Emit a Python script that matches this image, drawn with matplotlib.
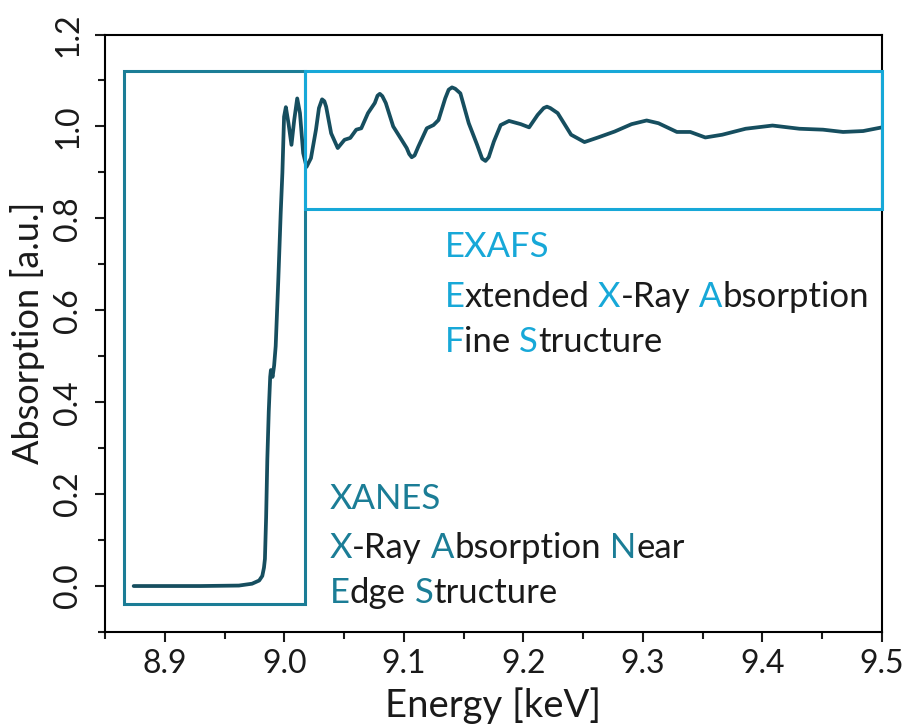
import matplotlib
matplotlib.use("Agg")
import matplotlib.pyplot as plt
from matplotlib.patches import Rectangle
from matplotlib.ticker import MultipleLocator
from matplotlib.transforms import offset_copy
from matplotlib.font_manager import FontProperties

# ---- data: X-ray absorption spectrum (energy in keV, normalised absorption) ----
energy = [
    8.874, 8.900, 8.930, 8.962, 8.973, 8.979, 8.9816, 8.983, 8.9838, 8.9848,
    8.9858, 8.987, 8.9882, 8.9888, 8.9895, 8.9902, 8.9915, 8.9928, 8.995, 8.997,
    8.9984, 8.9998, 9.0013, 9.0035, 9.006, 9.0083, 9.0108, 9.0131, 9.0158, 9.0186,
    9.0223, 9.0265, 9.029, 9.0316, 9.0335, 9.035, 9.0392, 9.0447, 9.0504, 9.0552,
    9.0602, 9.0644, 9.070, 9.0757, 9.078, 9.0799, 9.082, 9.0849, 9.0911, 9.0981,
    9.1024, 9.1045, 9.1066, 9.109, 9.1121, 9.1192, 9.1248, 9.1290, 9.1346, 9.1375,
    9.1403, 9.143, 9.1473, 9.1543, 9.1613, 9.1655, 9.1683, 9.171, 9.1753, 9.181,
    9.188, 9.1978, 9.2048, 9.2119, 9.217, 9.2197, 9.2225, 9.2287, 9.2399, 9.2511,
    9.2624, 9.2764, 9.2905, 9.3031, 9.3130, 9.3284, 9.3396, 9.3522, 9.3663, 9.3859,
    9.4084, 9.4309, 9.4506, 9.4674, 9.4842, 9.500,
]
absorption = [
    0.000, 0.000, 0.000, 0.001, 0.005, 0.012, 0.022, 0.040, 0.059, 0.150,
    0.276, 0.380, 0.455, 0.470, 0.462, 0.455, 0.480, 0.522, 0.667, 0.812,
    0.899, 1.021, 1.042, 1.007, 0.960, 1.014, 1.061, 1.029, 0.942, 0.912,
    0.931, 0.993, 1.040, 1.059, 1.055, 1.043, 0.985, 0.953, 0.971, 0.975,
    0.993, 0.996, 1.029, 1.051, 1.067, 1.071, 1.066, 1.051, 1.000, 0.971,
    0.953, 0.940, 0.933, 0.937, 0.956, 0.996, 1.003, 1.014, 1.061, 1.080,
    1.085, 1.082, 1.072, 1.007, 0.960, 0.930, 0.925, 0.933, 0.967, 1.003,
    1.012, 1.005, 0.998, 1.025, 1.040, 1.043, 1.040, 1.029, 0.982, 0.966,
    0.976, 0.989, 1.005, 1.013, 1.007, 0.988, 0.988, 0.976, 0.982, 0.995,
    1.002, 0.995, 0.993, 0.988, 0.990, 0.998,
]

# spectral regions (energy range, absorption range)
xanes_range = (8.866, 9.017)
xanes_abs = (-0.04, 1.12)
exafs_range = (9.017, 9.500)
exafs_abs = (0.82, 1.12)

xticks = [8.9, 9.0, 9.1, 9.2, 9.3, 9.4, 9.5]
yticks = [0.0, 0.2, 0.4, 0.6, 0.8, 1.0, 1.2]

# annotation text: (segment, highlighted?)
xanes_lines = [
    [("XANES", True)],
    [("X", True), ("-Ray", False), (" A", True), ("bsorption", False), (" N", True), ("ear", False)],
    [("E", True), ("dge", False), (" S", True), ("tructure", False)],
]
exafs_lines = [
    [("EXAFS", True)],
    [("E", True), ("xtended", False), (" X", True), ("-Ray", False), (" A", True), ("bsorption", False)],
    [("F", True), ("ine", False), (" S", True), ("tructure", False)],
]

FONT = "Lato"
CURVE = "#164e5f"
TEAL = "#1b7d96"
SKY = "#17a8d8"
INK = "#1a1a1a"

plt.rcParams["font.family"] = [FONT, "DejaVu Sans"]

fig = plt.figure(figsize=(9.05, 7.27), dpi=100)
ax = fig.add_axes([0.116, 0.1307, 0.8586, 0.8218])

ax.plot(energy, absorption, color=CURVE, lw=2.7, solid_joinstyle="round",
        solid_capstyle="round", zorder=3)

ax.add_patch(Rectangle((xanes_range[0], xanes_abs[0]),
                       xanes_range[1] - xanes_range[0], xanes_abs[1] - xanes_abs[0],
                       fill=False, ec=TEAL, lw=2.2, zorder=2))
ax.add_patch(Rectangle((exafs_range[0], exafs_abs[0]),
                       exafs_range[1] - exafs_range[0], exafs_abs[1] - exafs_abs[0],
                       fill=False, ec=SKY, lw=2.2, zorder=3.5, clip_on=False))

ax.set_xlim(8.85, 9.5)
ax.set_ylim(-0.1, 1.2)
ax.set_xticks(xticks)
ax.set_xticklabels([f"{v:.1f}" for v in xticks])
ax.set_yticks(yticks)
ax.set_yticklabels([f"{v:.1f}" for v in yticks])
ax.xaxis.set_minor_locator(MultipleLocator(0.05))
ax.yaxis.set_minor_locator(MultipleLocator(0.1))

for s in ax.spines.values():
    s.set_linewidth(1.5)
    s.set_color("black")
ax.tick_params(which="major", direction="out", length=7.5, width=1.5,
               labelsize=23, colors=INK)
ax.tick_params(which="minor", direction="out", length=5, width=1.5, colors=INK)
ax.tick_params(axis="x", which="major", pad=5)
ax.tick_params(axis="y", which="major", pad=8, labelrotation=90)
for lab in ax.get_yticklabels():
    lab.set_va("center")

ax.set_xlabel("Energy [keV]", fontsize=27.5, color=INK, labelpad=6)
ax.set_ylabel("Absorption [a.u.]", fontsize=26, color=INK, labelpad=6)

# multi-coloured text, each segment placed at the advance of the preceding text
fig.canvas.draw()
renderer = fig.canvas.get_renderer()
TEXT_SIZE = 25
prop = FontProperties(family=FONT, size=TEXT_SIZE)


def advance(s):
    if not s:
        return 0.0
    w_full = renderer.get_text_width_height_descent("H" + s + "H", prop, ismath=False)[0]
    w_ref = renderer.get_text_width_height_descent("HH", prop, ismath=False)[0]
    return w_full - w_ref


def draw_lines(x, ys, lines, accent):
    for y, segs in zip(ys, lines):
        prefix = ""
        for text, hi in segs:
            tr = offset_copy(ax.transData, fig=fig, x=advance(prefix), y=0, units="dots")
            ax.text(x, y, text, transform=tr, fontproperties=prop,
                    color=accent if hi else INK, ha="left", va="baseline")
            prefix += text


draw_lines(9.038, [0.167, 0.060, -0.038], xanes_lines, TEAL)
draw_lines(9.134, [0.716, 0.607, 0.509], exafs_lines, SKY)

fig.savefig("out.png", dpi=100)
